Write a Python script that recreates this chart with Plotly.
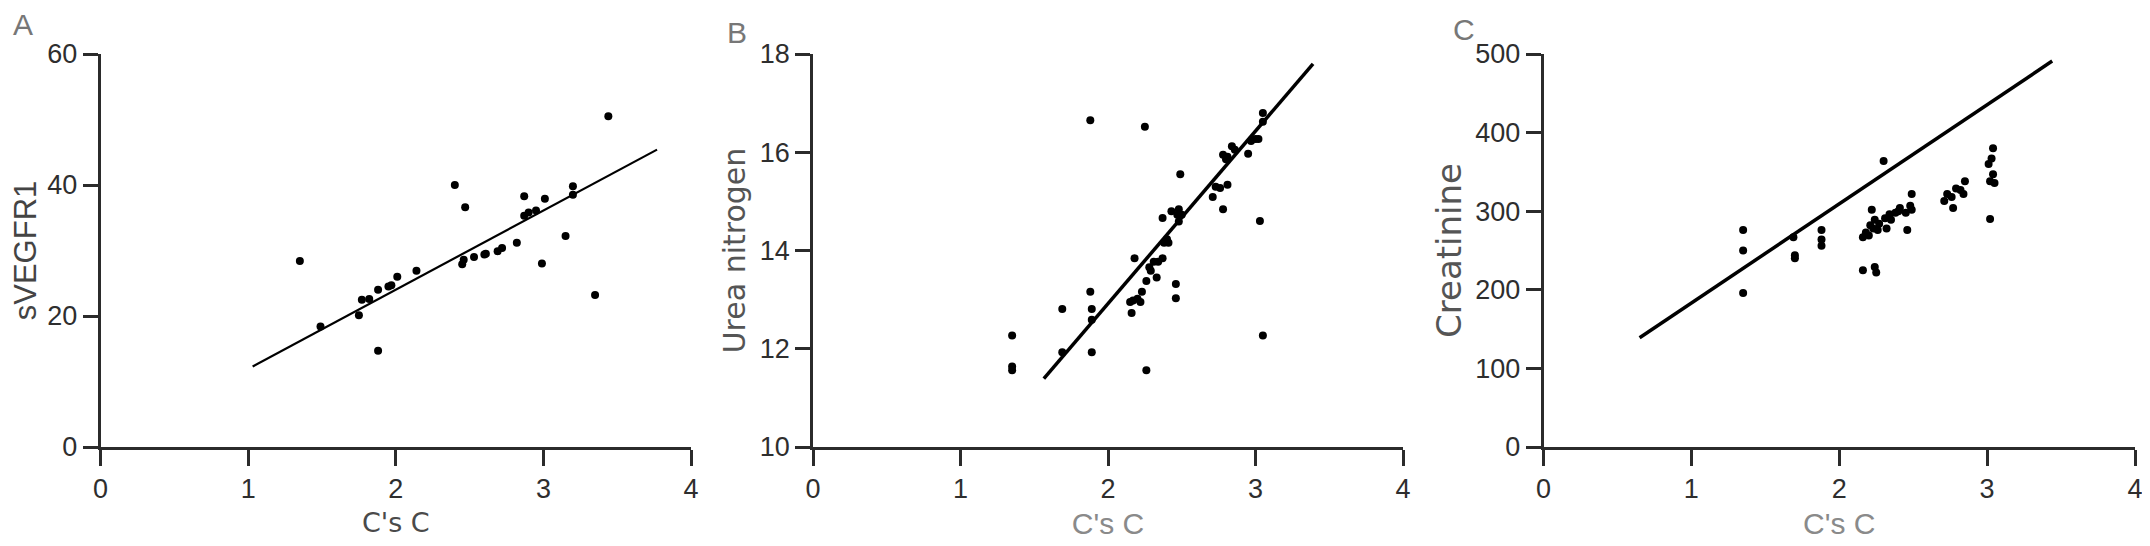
import plotly.graph_objects as go

# ---------------- Data ----------------
# Panel A: sVEGFR1 vs C's C
a_x = [1.35, 1.49, 1.75, 1.77, 1.82, 1.88, 1.88, 1.95, 1.97, 2.01, 2.14, 2.40, 2.45, 2.46,
       2.47, 2.53, 2.60, 2.61, 2.69, 2.72, 2.82, 2.87, 2.87, 2.90, 2.95, 2.99, 3.01, 3.15,
       3.20, 3.20, 3.35, 3.44]
a_y = [28.4, 18.4, 20.1, 22.5, 22.6, 24.0, 14.7, 24.5, 24.7, 26.0, 26.9, 40.0, 27.9, 28.6,
       36.6, 29.0, 29.4, 29.5, 29.9, 30.4, 31.2, 38.3, 35.3, 35.8, 36.1, 28.0, 37.9, 32.2,
       39.8, 38.5, 23.2, 50.5]
a_fit_x = [1.03, 3.77]
a_fit_y = [12.3, 45.4]

# Panel B: Urea nitrogen vs C's C
b_x = [1.35, 1.35, 1.35, 1.69, 1.69, 1.88, 1.88, 1.89, 1.89, 1.89, 2.15, 2.16, 2.17, 2.18,
       2.20, 2.22, 2.23, 2.25, 2.26, 2.26, 2.28, 2.29, 2.31, 2.33, 2.34, 2.37, 2.37, 2.38,
       2.40, 2.41, 2.43, 2.46, 2.46, 2.47, 2.48, 2.48, 2.49, 2.50, 2.71, 2.73, 2.76, 2.78,
       2.78, 2.80, 2.81, 2.81, 2.84, 2.86, 2.95, 2.97, 3.00, 3.02, 3.03, 3.05, 3.05, 3.05]
b_y = [12.27, 11.64, 11.56, 12.81, 11.93, 16.65, 13.16, 12.81, 12.59, 11.93, 12.95, 12.73,
       12.98, 13.84, 13.02, 12.95, 13.16, 16.52, 11.56, 13.38, 13.66, 13.59, 13.77, 13.45,
       13.77, 13.84, 14.66, 14.16, 14.23, 14.16, 14.80, 13.32, 13.03, 14.73, 14.59, 14.84,
       15.55, 14.73, 15.09, 15.30, 15.27, 14.84, 15.95, 15.86, 15.34, 15.91, 16.12, 16.05,
       15.97, 16.23, 16.27, 16.27, 14.60, 12.27, 16.80, 16.62]
b_fit_x = [1.565, 3.39]
b_fit_y = [11.39, 17.80]

# Panel C: Creatinine vs C's C
c_x = [1.35, 1.35, 1.35, 1.69, 1.70, 1.70, 1.88, 1.88, 1.88, 2.16, 2.16, 2.18, 2.20, 2.21,
       2.22, 2.23, 2.24, 2.25, 2.24, 2.26, 2.27, 2.30, 2.31, 2.32, 2.34, 2.35, 2.38, 2.40,
       2.41, 2.45, 2.46, 2.48, 2.49, 2.49, 2.71, 2.73, 2.76, 2.77, 2.79, 2.82, 2.84, 2.85,
       3.01, 3.02, 3.02, 3.03, 3.04, 3.04, 3.05]
c_y = [276, 250, 196, 267, 244, 240, 276, 264, 256, 267, 225, 273, 269, 282, 302, 278, 289,
       222, 229, 276, 284, 364, 291, 278, 296, 289, 298, 300, 304, 298, 276, 307, 322, 302,
       313, 322, 318, 304, 329, 327, 322, 338, 360, 338, 290, 367, 347, 380, 336]
c_fit_x = [0.65, 3.44]
c_fit_y = [139, 491]

panels = [
    dict(x=a_x, y=a_y, fx=a_fit_x, fy=a_fit_y, yrange=[0, 60], ydtick=20,
         ytitle="sVEGFR1", ytfont="Liberation Sans Narrow, Arial Narrow, Liberation Sans",
         ytsize=31, ytcolor="#444444", xtcolor="#4a4a4a", xtfont="DejaVu Sans", xtsize=27,
         lw=2.2, letter="A", lx=23, ly=24, domain=[100.6, 691], standoff=6),
    dict(x=b_x, y=b_y, fx=b_fit_x, fy=b_fit_y, yrange=[10, 18], ydtick=2,
         ytitle="Urea nitrogen", ytfont="DejaVu Sans", ytsize=30, ytcolor="#555555",
         xtcolor="#8a8a8a", xtfont="Liberation Sans", xtsize=30,
         lw=3.5, letter="B", lx=737, ly=32, domain=[813, 1403], standoff=6),
    dict(x=c_x, y=c_y, fx=c_fit_x, fy=c_fit_y, yrange=[0, 500], ydtick=100,
         ytitle="Creatinine", ytfont="DejaVu Sans", ytsize=34, ytcolor="#555555",
         xtcolor="#8a8a8a", xtfont="Liberation Sans", xtsize=30,
         lw=3.5, letter="C", lx=1464, ly=30, domain=[1543.5, 2135], standoff=4),
]

W, H = 2150, 546
OFF = 8  # page body margin offset
MT, MB = 54 - OFF, H - (447 - OFF)
PH = H - MT - MB
fig = go.Figure()
layout = dict(
    width=W, height=H,
    margin=dict(l=0, r=0, t=MT, b=MB, autoexpand=False),
    paper_bgcolor="white", plot_bgcolor="white",
    showlegend=False,
    annotations=[],
)

axis_color = "#2b2b2b"
tick_font = dict(family="Liberation Sans, Arial", size=27, color="#2e2e2e")

for i, p in enumerate(panels, start=1):
    xa = "x" if i == 1 else f"x{i}"
    ya = "y" if i == 1 else f"y{i}"
    fig.add_trace(go.Scatter(x=p["x"], y=p["y"], mode="markers", xaxis=xa, yaxis=ya,
                             marker=dict(color="black", size=8, line=dict(width=0))))
    fig.add_trace(go.Scatter(x=p["fx"], y=p["fy"], mode="lines", xaxis=xa, yaxis=ya,
                             line=dict(color="black", width=p["lw"])))
    xkey = "xaxis" if i == 1 else f"xaxis{i}"
    ykey = "yaxis" if i == 1 else f"yaxis{i}"
    d0, d1 = p["domain"]
    layout[xkey] = dict(
        domain=[(d0 - OFF) / W, (d1 - OFF) / W], anchor=ya, range=[0, 4], dtick=1, tick0=0,
        automargin=False,
        showline=True, linecolor=axis_color, linewidth=2.8,
        ticks="outside", ticklen=16, tickwidth=2.5, tickcolor=axis_color,
        showgrid=False, zeroline=False, tickfont=tick_font,
        title=dict(text="C's C", standoff=10,
                   font=dict(family=p["xtfont"], size=p["xtsize"], color=p["xtcolor"])),
    )
    layout[ykey] = dict(
        domain=[0, 1], anchor=xa, range=p["yrange"], dtick=p["ydtick"], tick0=0,
        automargin=False,
        showline=True, linecolor=axis_color, linewidth=2.8,
        ticks="outside", ticklen=15, tickwidth=2.5, tickcolor=axis_color,
        showgrid=False, zeroline=False, tickfont=tick_font,
        title=dict(text=p["ytitle"], standoff=p["standoff"],
                   font=dict(family=p["ytfont"], size=p["ytsize"], color=p["ytcolor"])),
    )
    layout["annotations"].append(dict(
        text=p["letter"], x=(p["lx"] - OFF) / W, y=(H - MB - (p["ly"] - OFF)) / PH,
        xref="paper", yref="paper",
        xanchor="center", yanchor="middle", showarrow=False,
        font=dict(family="Liberation Sans, Arial", size=30, color="#777777"),
    ))

fig.update_layout(**layout)
fig.write_html("out.html")
